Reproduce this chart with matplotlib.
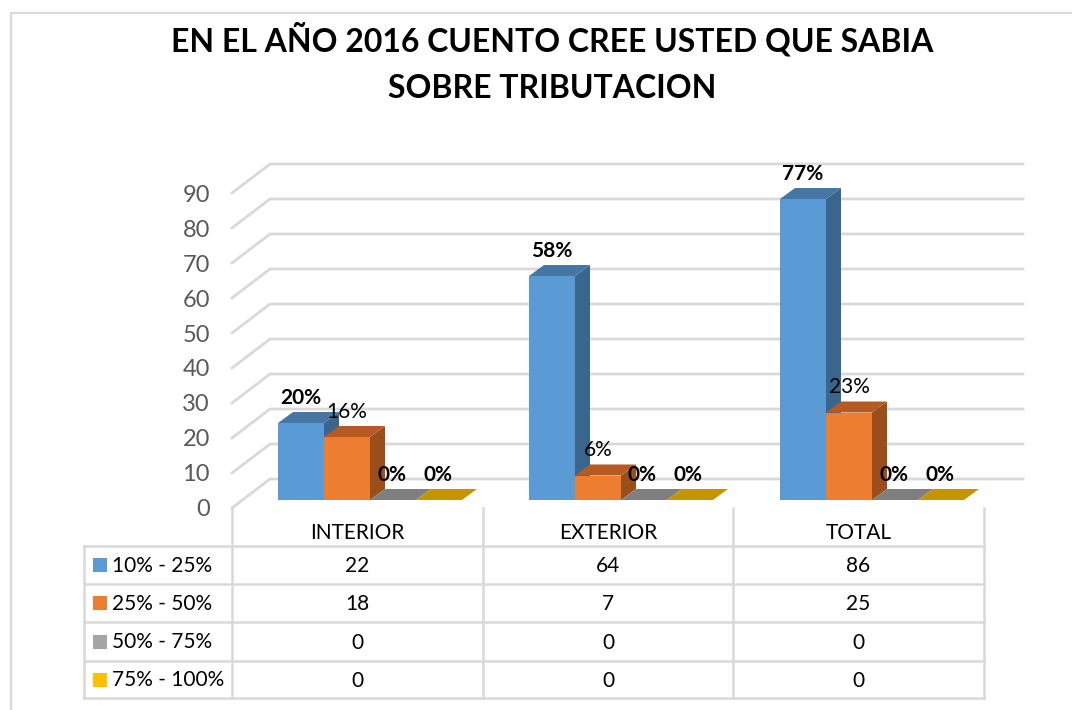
import matplotlib
matplotlib.use("Agg")
import matplotlib.pyplot as plt
from matplotlib.patches import Polygon, Rectangle

plt.rcParams['font.family'] = ['Lato', 'DejaVu Sans']

title_lines = ["EN EL AÑO 2016 CUENTO CREE USTED QUE SABIA", "SOBRE TRIBUTACION"]
categories = ["INTERIOR", "EXTERIOR", "TOTAL"]
series_names = ["10% - 25%", "25% - 50%", "50% - 75%", "75% - 100%"]
series_values = [[22, 64, 86], [18, 7, 25], [0, 0, 0], [0, 0, 0]]
point_labels = [["20%", "58%", "77%"], ["16%", "6%", "23%"], ["0%", "0%", "0%"], ["0%", "0%", "0%"]]
label_bold = [[True, True, True], [False, False, False], [True, True, True], [True, True, True]]
y_ticks = [0, 10, 20, 30, 40, 50, 60, 70, 80, 90]

front_colors = ["#5B9BD5", "#ED7D31", "#A5A5A5", "#FFC000"]
top_colors = ["#4676A3", "#B55B22", "#7F7F7F", "#C49500"]
side_colors = ["#3A658D", "#9A4E1A", "#6E6E6E", "#A67E00"]
grid_color = "#D9D9D9"

W, H = 1072, 710
fig = plt.figure(figsize=(W / 100, H / 100), dpi=100, facecolor="white")

# overlay in pixel coordinates for the frame, the table and text
ov = fig.add_axes([0, 0, 1, 1], zorder=5)
ov.set_xlim(0, W); ov.set_ylim(H, 0); ov.axis("off"); ov.patch.set_alpha(0)

# bar axes
PX_L, PX_R, PX_TOP, PX_BOT = 232, 985, 185, 500
ax = fig.add_axes([PX_L / W, 1 - PX_BOT / H, (PX_R - PX_L) / W, (PX_BOT - PX_TOP) / H], zorder=2)
ax.set_xlim(-0.5, 2.5); ax.set_ylim(0, 90); ax.axis("off"); ax.patch.set_alpha(0)
ux = (PX_R - PX_L) / 3.0
uy = (PX_BOT - PX_TOP) / 90.0

# wall grid lines
for v in y_ticks:
    fy = v - 8 / uy
    by = v + 21 / uy
    bx = -0.5 + 38 / ux
    ax.plot([-0.5, bx, -0.5 + (1023 - PX_L) / ux], [fy, by, by], color=grid_color, lw=2,
            clip_on=False, zorder=1, solid_joinstyle="miter")

bw = 46 / ux
dx, dy = 15 / ux, 11 / uy
start = -79.5 / ux
for s, (vals, fc, tc, sc) in enumerate(zip(series_values, front_colors, top_colors, side_colors)):
    for c, v in enumerate(vals):
        x0 = c + start + s * bw
        z = 3 + s * 0.1
        if v > 0:
            ax.bar(x0, v, width=bw, align="edge", color=fc, zorder=z, clip_on=False, lw=0)
            ax.add_patch(Polygon([(x0 + bw, 0), (x0 + bw + dx, dy), (x0 + bw + dx, v + dy), (x0 + bw, v)],
                                 closed=True, fc=sc, ec="none", zorder=z, clip_on=False))
        ax.add_patch(Polygon([(x0, v), (x0 + bw, v), (x0 + bw + dx, v + dy), (x0 + dx, v + dy)],
                             closed=True, fc=tc, ec="none", zorder=z, clip_on=False))
        extra = -1.5 / ux if v == 0 else 0
        ax.text(x0 + bw / 2 + extra, v + 25 / uy, point_labels[s][c], ha="center", va="center",
                fontsize=15, color="black", fontweight="bold" if label_bold[s][c] else "normal",
                zorder=8, clip_on=False)

# y tick labels
for v in y_ticks:
    ov.text(210, 509.5 - v * 3.49, str(v), ha="right", va="center", fontsize=17, color="#595959")

# chart frame
ov.plot([W, 10.5, 10.5], [12.5, 12.5, H], color=grid_color, lw=1.6)

for line, ty in zip(title_lines, [52, 98]):
    ov.text(552, ty, line, ha="center", va="baseline", fontsize=23, fontweight="bold", color="black")

# data table
col_x = [232, 483, 733, 984]
row_y = [546, 584, 622, 661, 698]
for x in col_x:
    ov.plot([x, x], [508, row_y[-1]], color=grid_color, lw=1.8)
ov.plot([84, 84], [row_y[0], row_y[-1]], color=grid_color, lw=1.8)
for y in row_y:
    ov.plot([84, col_x[-1]], [y, y], color=grid_color, lw=1.8)
for c, name in enumerate(categories):
    cx = (col_x[c] + col_x[c + 1]) / 2
    ov.text(cx, 533, name, ha="center", va="center", fontsize=15, color="black")
for s, name in enumerate(series_names):
    cy = (row_y[s] + row_y[s + 1]) / 2
    ov.add_patch(Rectangle((93, cy - 7), 14, 14, fc=front_colors[s], ec="none"))
    ov.text(112, cy + 0.5, name, ha="left", va="center", fontsize=15, color="black")
    for c, v in enumerate(series_values[s]):
        cx = (col_x[c] + col_x[c + 1]) / 2
        ov.text(cx, cy + 1.5, str(v), ha="center", va="center", fontsize=15, color="black")

fig.savefig("out.png", dpi=100, facecolor="white")
